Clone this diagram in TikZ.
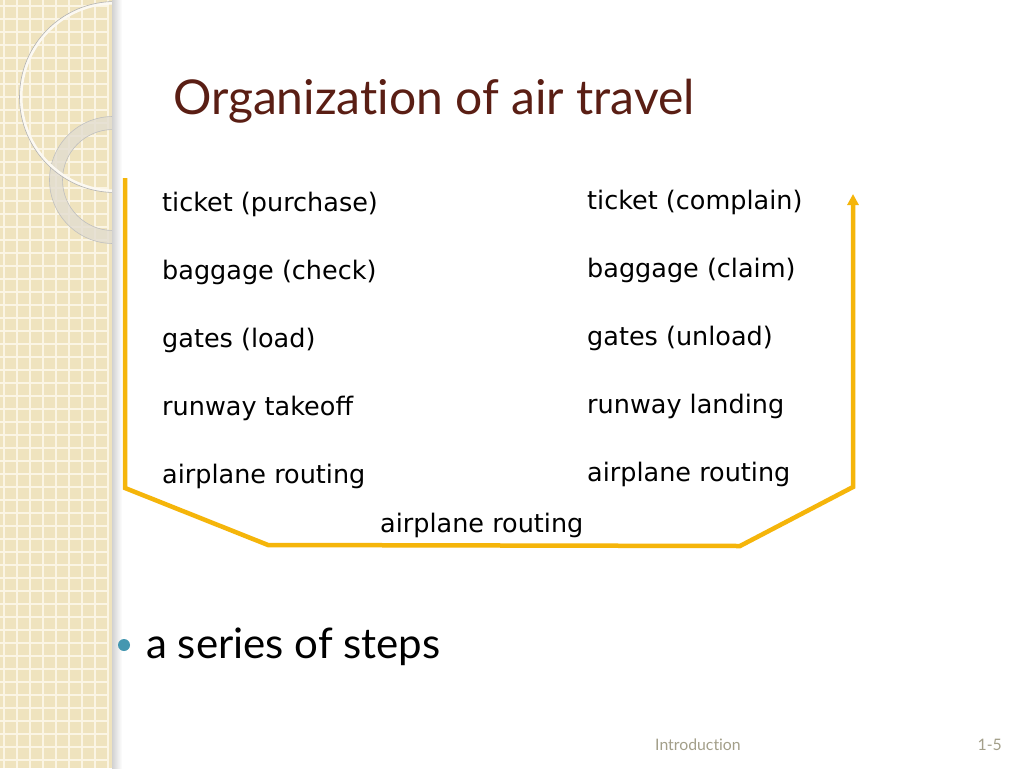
\documentclass[tikz,border=0pt]{standalone}
\usepackage{fontspec}
\setmainfont[Ligatures=NoCommon]{Lato}
\newfontfamily\stepfont{DejaVu Sans}
\usetikzlibrary{arrows.meta}
\definecolor{beige}{HTML}{EFE3BE}
\definecolor{gridw}{HTML}{FBF5E4}
\definecolor{routeyellow}{HTML}{F5B50A}
\definecolor{titlebrown}{HTML}{5A1E14}
\definecolor{bulletteal}{HTML}{4597B0}
\definecolor{footgray}{HTML}{A39F8A}
\definecolor{ringgray}{HTML}{E2DDD0}
\tikzset{
  steptext/.style={anchor=base west, inner sep=0pt, font=\stepfont\fontsize{25.5}{28}\selectfont, text=black},
  route/.style={draw=routeyellow, line width=4.5pt, line join=miter},
}
\begin{document}
\begin{tikzpicture}[x=1pt,y=-1pt]
\useasboundingbox (0,0) rectangle (1024,768);
\fill[white] (0,0) rectangle (1024,768);
% left decorative panel
\begin{scope}
\clip (0,0) rectangle (112,768);
\fill[beige] (0,0) rectangle (112,768);
\foreach \i in {0,...,9} {
  \draw[gridw, line width=1.2pt] (\i*13+4,0) -- (\i*13+4,768);
}
\foreach \i in {0,...,60} {
  \draw[gridw, line width=1.2pt] (0,\i*13+6) -- (112,\i*13+6);
}
\fill[beige] (109,0) rectangle (112,768);
\draw[ringgray, line width=13pt, opacity=0.8] (113,180) circle (57);
\draw[black!25, line width=0.6pt] (113,180) circle (63.5);
\draw[black!25, line width=0.6pt] (113,180) circle (50.5);
\draw[white!80!beige, line width=3pt] (115,97) circle (94);
\draw[black!30, line width=0.6pt] (115,97) circle (95.5);
\end{scope}
\shade[left color=black!18, right color=white] (112,0) rectangle (122,768);
% title
\node[anchor=base west, inner sep=0pt, font=\fontsize{48}{52}\selectfont, text=titlebrown] (title) at (173,114) {Organization of air travel};
% left column
\node[steptext] (l1) at (162,211) {ticket (purchase)};
\node[steptext] (l2) at (162,279) {baggage (check)};
\node[steptext] (l3) at (162,347) {gates (load)};
\node[steptext] (l4) at (162,415) {runway takeoff};
\node[steptext] (l5) at (162,483) {airplane routing};
% right column
\node[steptext] (r1) at (587,209) {ticket (complain)};
\node[steptext] (r2) at (587,277) {baggage (claim)};
\node[steptext] (r3) at (587,345) {gates (unload)};
\node[steptext] (r4) at (587,413) {runway landing};
\node[steptext] (r5) at (587,481) {airplane routing};
% middle
\node[steptext] (mid) at (380,532) {airplane routing};
% route
\coordinate (start) at (125,178);
\coordinate (c1) at (125,488);
\coordinate (c2) at (268,545);
\coordinate (c3) at (740,546);
\coordinate (c4) at (853,487);
\coordinate (finish) at (853,194);
\draw[route, -{Triangle[length=11pt,width=11pt]}] (start) -- (c1) -- (c2) -- (c3) -- (c4) -- (finish);
% bullet
\fill[bulletteal] (124,645) circle (6);
\node[anchor=base west, inner sep=0pt, font=\fontsize{42}{46}\selectfont, text=black] (bullet) at (146,658) {a series of steps};
% footer
\node[anchor=base west, inner sep=0pt, font=\fontsize{15.8}{18}\selectfont, text=footgray] (foot) at (655,750) {Introduction};
\node[anchor=base east, inner sep=0pt, font=\fontsize{15.8}{18}\selectfont, text=footgray] (page) at (1002,750) {1-5};
\end{tikzpicture}
\end{document}
